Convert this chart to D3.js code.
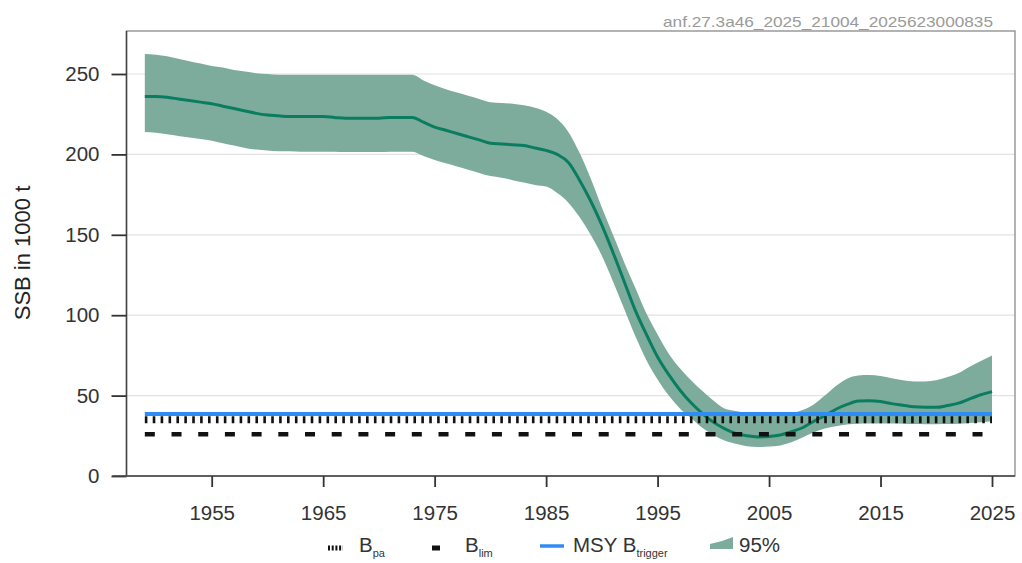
<!DOCTYPE html>
<html>
<head>
<meta charset="utf-8">
<script src="https://cdn.jsdelivr.net/npm/d3@7"></script>
<style>
  html, body { margin: 0; padding: 0; background: #fff; }
  svg { display: block; font-family: "Liberation Sans", Arial, Helvetica, sans-serif; }
</style>
</head>
<body>
<svg id="chart" width="1022" height="563"></svg>
<script>
// ---- data ----
const years = d3.range(1949, 2026);
const ssb = [236,236,235.5,234.5,233.5,232.5,231.5,230,228.5,227,225.5,224.5,224,223.5,223.5,223.5,223.5,223,222.5,222.5,222.5,222.5,223,223,223,220,217,215,213,211,209,207,206.5,206,205.5,204,202.5,200,195,184,171,156,139,121,103,88,74,63,53.5,45.5,39,33.5,29.5,26.5,25,24.3,24.6,25.5,27.5,30,34,37.5,41.5,44.5,46.6,46.8,46.3,45,44,43,42.7,42.7,43.8,45.3,48,50.5,52.5];
const upper = [262.5,262,261,259.5,258,256.5,255,254,252.5,251.5,250.5,250,249.5,249.5,249.5,249.5,249.5,249.5,249.5,249.5,249.5,249.5,249.5,249.5,249.5,246,243,240.5,238.5,236.5,234.5,232.5,232,231.5,230.5,229,226.5,222,214,201,185,167,150,133,117,101,88,76,67,59.5,53,47,42,40.5,39.5,38.8,38.5,38.5,39,41,44.5,50,56,60.5,62.5,62.8,62.2,60.8,59.5,58.8,58.8,59.5,61.5,64,68,71.5,75];
const lower = [214,213.5,212.5,211.5,210.5,209.5,208.5,207,205.5,204,203,202.5,202,202,201.7,201.7,201.7,201.7,201.5,201.5,201.5,201.5,201.7,201.7,201.7,199,196.5,194.5,192.5,190.5,188.5,186.5,185.5,184,182.5,181,180,176,170,161,150,137,121,104,87,72,60,50,42,36,30,25.5,22,20,18.5,18,18.3,19,21,24,27,29.5,31,32,32.5,32.7,32.7,32.7,32.5,32.3,32.2,32.2,32.3,32.5,33,33.5,34];
const refPoints = { Blim: 26, Bpa: 35, MSYBtrigger: 38.5 };
const yTicks = [0, 50, 100, 150, 200, 250];
const xTicks = [1955, 1965, 1975, 1985, 1995, 2005, 2015, 2025];
const yLabel = "SSB in 1000 t";
const stamp = "anf.27.3a46_2025_21004_2025623000835";

// ---- layout ----
const box = { left: 126.5, right: 1015, top: 31, bottom: 476 };
const svg = d3.select("#chart");
const x = d3.scaleLinear().domain([1955, 2025]).range([211.7, 992]);
const y = d3.scaleLinear().domain([0, 250]).range([476, 74]);

const bandColor = "#7dac9c";
const lineColor = "#0a7d60";
const blue = "#2f8cf2";
const textColor = "#333";
const font = "Liberation Sans, Arial, sans-serif";

// stamp
svg.append("text").attr("x", 993).attr("y", 27).attr("text-anchor", "end")
  .attr("font-size", 14.5).attr("fill", "#9a9a9a")
  .attr("textLength", 330).attr("lengthAdjust", "spacingAndGlyphs").text(stamp);

// gridlines
svg.append("g").selectAll("line").data(yTicks.filter(d => d > 0)).join("line")
  .attr("x1", box.left).attr("x2", box.right)
  .attr("y1", d => y(d)).attr("y2", d => y(d))
  .attr("stroke", "#e2e2e2").attr("stroke-width", 1.2);

// band
const area = d3.area().x((d, i) => x(years[i])).y0((d, i) => y(lower[i])).y1((d, i) => y(upper[i]))
  .curve(d3.curveMonotoneX);
svg.append("path").datum(ssb).attr("d", area).attr("fill", bandColor);

// ssb line
const line = d3.line().x((d, i) => x(years[i])).y(d => y(d)).curve(d3.curveMonotoneX);
svg.append("path").datum(ssb).attr("d", line).attr("fill", "none")
  .attr("stroke", lineColor).attr("stroke-width", 3);

// reference lines
const x0 = x(years[0]), x1 = x(years[years.length - 1]);
svg.append("line").attr("x1", x0).attr("x2", x1).attr("y1", y(refPoints.Blim)).attr("y2", y(refPoints.Blim))
  .attr("stroke", "#111").attr("stroke-width", 4.5).attr("stroke-dasharray", "10,16.7");
svg.append("line").attr("x1", x0).attr("x2", x1).attr("y1", y(refPoints.Bpa)).attr("y2", y(refPoints.Bpa))
  .attr("stroke", "#111").attr("stroke-width", 7).attr("stroke-dasharray", "2.6,5.3");
svg.append("line").attr("x1", x0).attr("x2", x1).attr("y1", y(refPoints.MSYBtrigger)).attr("y2", y(refPoints.MSYBtrigger))
  .attr("stroke", blue).attr("stroke-width", 4);

// box
svg.append("rect").attr("x", box.left).attr("y", box.top)
  .attr("width", box.right - box.left).attr("height", box.bottom - box.top)
  .attr("fill", "none").attr("stroke", "#8a8a8a").attr("stroke-width", 1.3);

// y axis
const yAxis = svg.append("g").attr("transform", `translate(${box.left},0)`)
  .call(d3.axisLeft(y).tickValues(yTicks).tickSize(15).tickPadding(12));
yAxis.select(".domain").attr("stroke", "#444").attr("stroke-width", 1.5).attr("d", `M0,${box.top}V${box.bottom}`);
yAxis.selectAll(".tick line").attr("stroke", "#333").attr("stroke-width", 1.8);
yAxis.selectAll(".tick text").attr("font-size", 20.5).attr("fill", textColor).attr("font-family", font);

// x axis
const xAxis = svg.append("g").attr("transform", `translate(0,${box.bottom})`)
  .call(d3.axisBottom(x).tickValues(xTicks).tickFormat(d3.format("d")).tickSize(11).tickPadding(18));
xAxis.select(".domain").attr("stroke", "#444").attr("stroke-width", 1.5).attr("d", `M${box.left - 14},0H${box.right}`);
xAxis.selectAll(".tick line").attr("stroke", "#333").attr("stroke-width", 1.8);
xAxis.selectAll(".tick text").attr("font-size", 20.5).attr("fill", textColor).attr("font-family", font);

// y label
svg.append("text").attr("transform", "translate(30,253) rotate(-90)")
  .attr("text-anchor", "middle").attr("font-size", 22).attr("fill", "#222").text(yLabel);

// legend
const lg = svg.append("g");
const ly = 548;
lg.append("line").attr("x1", 328).attr("x2", 343).attr("y1", ly).attr("y2", ly)
  .attr("stroke", "#111").attr("stroke-width", 5).attr("stroke-dasharray", "2,1.7");
const t1 = lg.append("text").attr("x", 359).attr("y", ly + 4).attr("font-size", 20.5).attr("fill", textColor);
t1.append("tspan").text("B");
t1.append("tspan").attr("font-size", 11).attr("dy", 5).text("pa");

lg.append("line").attr("x1", 432).attr("x2", 440).attr("y1", ly).attr("y2", ly)
  .attr("stroke", "#111").attr("stroke-width", 5);
const t2 = lg.append("text").attr("x", 465).attr("y", ly + 4).attr("font-size", 20.5).attr("fill", textColor);
t2.append("tspan").text("B");
t2.append("tspan").attr("font-size", 11).attr("dy", 5).text("lim");

lg.append("line").attr("x1", 540).attr("x2", 564).attr("y1", ly - 2).attr("y2", ly - 2)
  .attr("stroke", blue).attr("stroke-width", 3.5);
const t3 = lg.append("text").attr("x", 573).attr("y", ly + 4).attr("font-size", 20.5).attr("fill", textColor);
t3.append("tspan").text("MSY B");
t3.append("tspan").attr("font-size", 11).attr("dy", 5).text("trigger");

lg.append("path").attr("d", `M710,${ly + 1}L733,${ly + 1}L733,${ly - 11}L722,${ly - 7}L710,${ly - 4}Z`)
  .attr("fill", bandColor);
lg.append("text").attr("x", 739).attr("y", ly + 4).attr("font-size", 20.5).attr("fill", textColor).text("95%");
</script>
</body>
</html>
